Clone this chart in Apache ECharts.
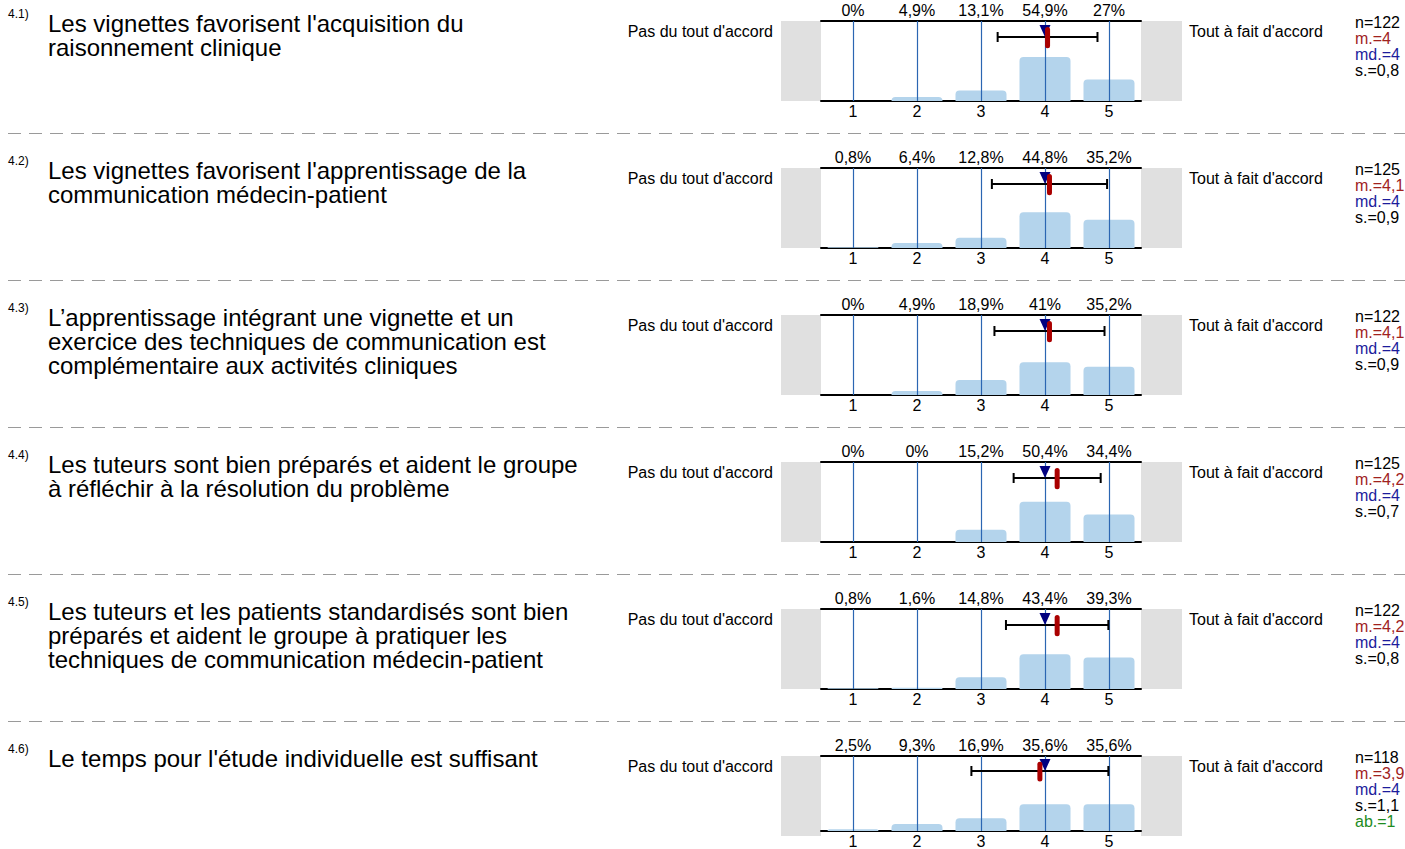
<!DOCTYPE html>
<html>
<head>
<meta charset="utf-8">
<script src="https://cdn.jsdelivr.net/npm/echarts@6/dist/echarts.min.js"></script>
<style>
html,body{margin:0;padding:0;background:#fff;}
#chart{width:1405px;height:849px;}
</style>
</head>
<body>
<div id="chart"></div>
<script>
// ---------- DATA ----------
const questionNumbers = ['4.1)', '4.2)', '4.3)', '4.4)', '4.5)', '4.6)'];
const questions = [
  "Les vignettes favorisent l'acquisition du\nraisonnement clinique",
  "Les vignettes favorisent l'apprentissage de la\ncommunication médecin-patient",
  "L’apprentissage intégrant une vignette et un\nexercice des techniques de communication est\ncomplémentaire aux activités cliniques",
  "Les tuteurs sont bien préparés et aident le groupe\nà réfléchir à la résolution du problème",
  "Les tuteurs et les patients standardisés sont bien\npréparés et aident le groupe à pratiquer les\ntechniques de communication médecin-patient",
  "Le temps pour l'étude individuelle est suffisant"
];
const categories = ['1', '2', '3', '4', '5'];
const scaleValues = [1, 2, 3, 4, 5];
const leftLabel = "Pas du tout d'accord";
const rightLabel = "Tout à fait d'accord";
const percents = [
  [0, 4.9, 13.1, 54.9, 27],
  [0.8, 6.4, 12.8, 44.8, 35.2],
  [0, 4.9, 18.9, 41, 35.2],
  [0, 0, 15.2, 50.4, 34.4],
  [0.8, 1.6, 14.8, 43.4, 39.3],
  [2.5, 9.3, 16.9, 35.6, 35.6]
];
const means = [4.04, 4.07, 4.07, 4.19, 4.19, 3.92];
const sds = [0.78, 0.9, 0.86, 0.68, 0.8, 1.07];
const medians = [4, 4, 4, 4, 4, 4];
const nLabels = ['122', '125', '122', '125', '122', '118'];
const meanLabels = ['4', '4,1', '4,1', '4,2', '4,2', '3,9'];
const medianLabels = ['4', '4', '4', '4', '4', '4'];
const sdLabels = ['0,8', '0,9', '0,9', '0,7', '0,8', '1,1'];
const abstLabels = [null, null, null, null, null, '1'];

// ---------- LAYOUT ----------
const FONT = 'Liberation Sans, Arial, Helvetica, sans-serif';
const ROW_H = 147;
const PLOT_TOP = 21, PLOT_H = 80, PLOT_LEFT = 821, PLOT_W = 320;

const fmtPct = v => String(v).replace('.', ',') + '%';

const grids = [], xAxes = [], yAxes = [], series = [], graphics = [];

for (let i = 0; i < questions.length; i++) {
  const off = i * ROW_H;
  grids.push({left: PLOT_LEFT, top: PLOT_TOP + off, width: PLOT_W, height: PLOT_H});
  xAxes.push({
    type: 'category', gridIndex: i, data: categories, position: 'bottom',
    axisLine: {onZero: false, lineStyle: {color: '#000', width: 2}},
    axisTick: {show: false},
    axisLabel: {color: '#000', fontSize: 16, fontFamily: FONT, margin: 2}
  });
  xAxes.push({
    type: 'category', gridIndex: i, data: percents[i].map(fmtPct), position: 'top',
    axisLine: {onZero: false, lineStyle: {color: '#000', width: 2}},
    axisTick: {show: false},
    axisLabel: {color: '#000', fontSize: 16, fontFamily: FONT, margin: 3, interval: 0}
  });
  xAxes.push({type: 'value', gridIndex: i, min: 0.5, max: 5.5, show: false});
  yAxes.push({type: 'value', gridIndex: i, min: 0, max: 100, show: false});

  series.push({
    type: 'bar', xAxisIndex: 3 * i, yAxisIndex: i, data: percents[i],
    barWidth: 51, itemStyle: {color: '#b4d4ec', borderRadius: [4, 4, 0, 0]},
    silent: true, z: 2
  });
  series.push({
    type: 'custom', xAxisIndex: 3 * i + 2, yAxisIndex: i, z: 3, silent: true,
    data: scaleValues.map(v => [v]),
    renderItem: function (params, api) {
      const a = api.coord([api.value(0), 0]);
      const b = api.coord([api.value(0), 100]);
      const x = Math.round(a[0]) + 0.5;
      return {type: 'line', shape: {x1: x, y1: a[1], x2: x, y2: b[1]},
        style: {stroke: '#2b66b2', lineWidth: 1.2}};
    }
  });
  series.push({
    type: 'custom', xAxisIndex: 3 * i + 2, yAxisIndex: i, z: 4, silent: true,
    data: [[means[i], sds[i]]],
    renderItem: function (params, api) {
      const m = api.value(0), s = api.value(1);
      const a = api.coord([m - s, 80]);
      const b = api.coord([m + s, 80]);
      const st = {stroke: '#000', lineWidth: 2};
      return {type: 'group', children: [
        {type: 'line', shape: {x1: a[0], y1: a[1], x2: b[0], y2: b[1]}, style: st},
        {type: 'line', shape: {x1: a[0], y1: a[1] - 5, x2: a[0], y2: a[1] + 5}, style: st},
        {type: 'line', shape: {x1: b[0], y1: b[1] - 5, x2: b[0], y2: b[1] + 5}, style: st}
      ]};
    }
  });
  series.push({
    type: 'custom', xAxisIndex: 3 * i + 2, yAxisIndex: i, z: 5, silent: true,
    data: [[medians[i]]],
    renderItem: function (params, api) {
      const p = api.coord([api.value(0), 80]);
      return {type: 'polygon', shape: {points: [[p[0] - 5.5, p[1] - 12], [p[0] + 5.5, p[1] - 12], [p[0], p[1]]]},
        style: {fill: '#000080'}};
    }
  });
  series.push({
    type: 'custom', xAxisIndex: 3 * i + 2, yAxisIndex: i, z: 6, silent: true,
    data: [[means[i]]],
    renderItem: function (params, api) {
      const a = api.coord([api.value(0), 92.5]);
      const b = api.coord([api.value(0), 66]);
      return {type: 'rect', shape: {x: a[0] - 2.5, y: a[1], width: 5, height: b[1] - a[1], r: 2.5},
        style: {fill: '#aa0000'}};
    }
  });

  graphics.push({type: 'rect', silent: true, z: 0,
    shape: {x: 781, y: PLOT_TOP + off, width: 40, height: PLOT_H}, style: {fill: '#e0e0e0'}});
  graphics.push({type: 'rect', silent: true, z: 0,
    shape: {x: 1141, y: PLOT_TOP + off, width: 41, height: PLOT_H}, style: {fill: '#e0e0e0'}});

  graphics.push({type: 'text', silent: true, x: 8, y: 8 + off,
    style: {text: questionNumbers[i], fontSize: 12, fontFamily: FONT, fill: '#000', verticalAlign: 'top'}});
  graphics.push({type: 'text', silent: true, x: 48, y: 11 + off,
    style: {text: questions[i], fontSize: 24, lineHeight: 24, fontFamily: FONT, fill: '#000', verticalAlign: 'top'}});

  graphics.push({type: 'text', silent: true, x: 773, y: 31 + off,
    style: {text: leftLabel, fontSize: 16, fontFamily: FONT, fill: '#000', align: 'right', verticalAlign: 'middle'}});
  graphics.push({type: 'text', silent: true, x: 1189, y: 31 + off,
    style: {text: rightLabel, fontSize: 16, fontFamily: FONT, fill: '#000', align: 'left', verticalAlign: 'middle'}});

  let statText = '{n|n=' + nLabels[i] + '}\n{m|m.=' + meanLabels[i] + '}\n{md|md.=' + medianLabels[i] + '}\n{s|s.=' + sdLabels[i] + '}';
  if (abstLabels[i] !== null) statText += '\n{ab|ab.=' + abstLabels[i] + '}';
  const rs = (c) => ({fill: c, fontSize: 16, lineHeight: 16, fontFamily: FONT});
  graphics.push({type: 'text', silent: true, x: 1355, y: 14 + off,
    style: {text: statText, verticalAlign: 'top', fontSize: 16, lineHeight: 16, fontFamily: FONT,
      rich: {n: rs('#000'), m: rs('#a0221e'), md: rs('#1c1c9c'), s: rs('#000'), ab: rs('#1e8c1e')}}});

  if (i < questions.length - 1) {
    graphics.push({type: 'line', silent: true,
      shape: {x1: 8, y1: 133.5 + off, x2: 1405, y2: 133.5 + off},
      style: {stroke: '#9a9a9a', lineWidth: 1.2, lineDash: [13, 8]}});
  }
}

const chart = echarts.init(document.getElementById('chart'), null, {renderer: 'svg'});
chart.setOption({
  animation: false,
  backgroundColor: '#fff',
  textStyle: {fontFamily: FONT},
  grid: grids,
  xAxis: xAxes,
  yAxis: yAxes,
  series: series,
  graphic: graphics
});
</script>
</body>
</html>
